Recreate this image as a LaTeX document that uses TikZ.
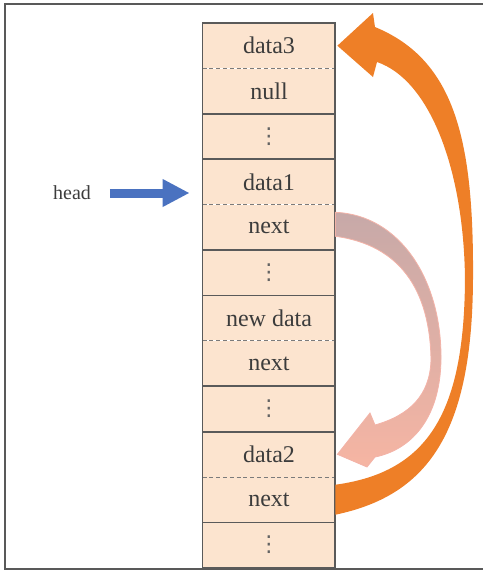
\documentclass[tikz,border=0pt]{standalone}
\usepackage{fontspec}
\setmainfont{Liberation Serif}
\newfontfamily\dotsfont{DejaVu Sans}
\usepackage{tikz}
\usetikzlibrary{arrows.meta,positioning}
\definecolor{peach}{HTML}{FCE4CF}
\definecolor{cellline}{HTML}{5A5A5A}
\definecolor{txt}{HTML}{3C3C3C}
\definecolor{orng}{HTML}{EE7F27}
\definecolor{ptrblue}{HTML}{4A72C0}
\definecolor{pinktop}{HTML}{C7A9A8}
\definecolor{pinkbot}{HTML}{F6B5A3}
\definecolor{pinkedge}{HTML}{F3B3A8}

\begin{document}
\begin{tikzpicture}[x=0.5pt, y=-0.5pt, node distance=0pt, >=Latex, every node/.style={font=\fontsize{12}{14}\selectfont, text=txt}]
\tikzstyle{cell}=[fill=peach, minimum width=66pt, minimum height=22.3pt, inner sep=0pt]
\tikzstyle{gap}=[cell, font=\dotsfont\fontsize{11}{12}\selectfont, text=txt!80]
\tikzstyle{sep}=[cellline, line width=0.9pt]
\tikzstyle{half}=[cellline!80, line width=0.5pt, dash pattern=on 2pt off 1.4pt]
\useasboundingbox (0,0) rectangle (483,570);
\draw[gray!70!black, line width=1pt] (483,4) -- (5,4) -- (5,569) -- (483,569);

% memory cells
\node[cell, anchor=north] (c1) at (269,23) {data3};
\node[cell, below=of c1] (c2) {null};
\node[gap, below=of c2] (c3) {⋮};
\node[cell, below=of c3] (c4) {data1};
\node[cell, below=of c4] (c5) {next};
\node[gap, below=of c5] (c6) {⋮};
\node[cell, below=of c6] (c7) {new data};
\node[cell, below=of c7] (c8) {next};
\node[gap, below=of c8] (c9) {⋮};
\node[cell, below=of c9] (c10) {data2};
\node[cell, below=of c10] (c11) {next};
\node[gap, below=of c11] (c12) {⋮};

\draw[half] (c1.south west) -- (c1.south east);
\draw[half] (c4.south west) -- (c4.south east);
\draw[half] (c7.south west) -- (c7.south east);
\draw[half] (c10.south west) -- (c10.south east);
\draw[sep] (c2.south west) -- (c2.south east);
\draw[sep] (c3.south west) -- (c3.south east);
\draw[sep] (c5.south west) -- (c5.south east);
\draw[sep] (c6.south west) -- (c6.south east);
\draw[sep] (c8.south west) -- (c8.south east);
\draw[sep] (c9.south west) -- (c9.south east);
\draw[sep] (c11.south west) -- (c11.south east);
\draw[sep] (c1.north west) rectangle (c12.south east);

% head pointer
\node[font=\fontsize{10}{12}\selectfont] (head) at (72,193) {head};
\draw[ptrblue, line width=4.5pt, -{Triangle[length=13.5pt, width=13pt]}] ([xshift=6pt]head.east) -- ([xshift=-6.5pt]head.east -| c4.west);

% old link data1 -> data2
\shade[top color=pinktop, bottom color=pinkbot, draw=pinkedge, line width=0.4pt]
  ([yshift=7.5pt]c5.east) .. controls (400,215) and (442,280) .. (441,360)
  .. controls (440,420) and (410,450) .. (375,457) -- (367,467) -- ([xshift=1pt]c10.east)
  -- (370,413) -- (375,425) .. controls (410,415) and (430,395) .. (431,360)
  .. controls (430,290) and (400,245) .. ([yshift=-4.5pt]c5.east) -- cycle;

% link data2 -> data3
\fill[orng] ([yshift=-7.5pt]c11.east) .. controls (430,495) and (472,430) .. (473,280)
  .. controls (474,140) and (455,60) .. (375,27) -- (373,13) -- ([xshift=1pt]c1.east)
  -- (373,77) -- (377,62) .. controls (430,80) and (464,170) .. (465,280)
  .. controls (464,410) and (430,472) .. ([yshift=7.5pt]c11.east) -- cycle;
\end{tikzpicture}
\end{document}
